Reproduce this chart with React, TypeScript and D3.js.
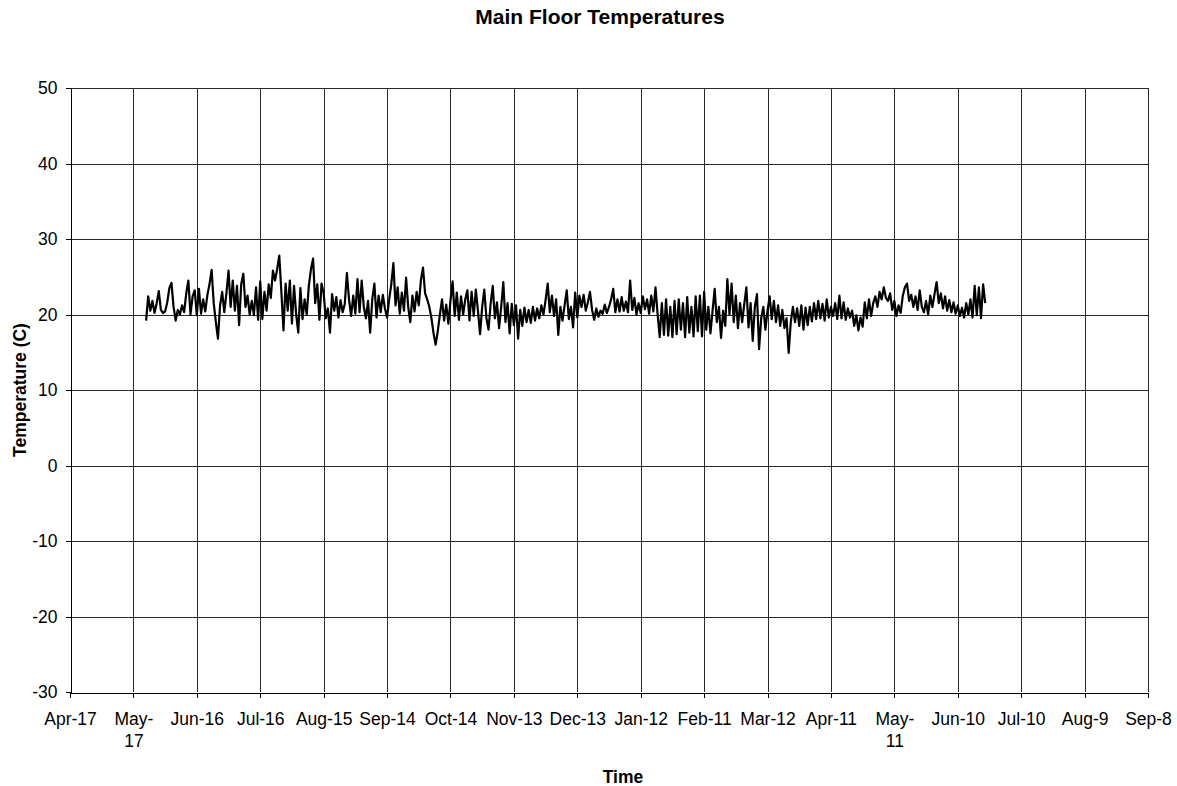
import { useEffect, useRef } from "react";
import * as d3 from "d3";

// daily readings, May 23 2007 .. Jun 23 2008
const may07 = [19.2, 22.4, 20.5, 21.8, 20.2, 21.5, 23.1, 20.6, 20.2];
const jun07 = [
  20.4, 21.6, 23.5, 24.2, 21.0, 19.2, 20.6, 20.0, 21.2, 20.3,
  22.8, 24.5, 20.0, 22.4, 23.2, 19.9, 23.4, 20.1, 22.0, 20.4,
  22.6, 24.0, 25.9, 21.5, 19.0, 16.8, 21.2, 23.0, 20.3, 22.8,
];
const jul07 = [
  25.8, 21.0, 24.5, 20.5, 23.8, 18.6, 24.0, 25.4, 21.0, 22.5,
  20.0, 21.8, 19.9, 23.6, 19.3, 24.4, 19.4, 23.0, 20.5, 24.0,
  22.2, 25.8, 24.5, 26.0, 27.8, 23.0, 17.9, 24.1, 20.5, 24.5, 18.8,
];
const aug07 = [
  23.8, 20.0, 17.6, 23.5, 19.4, 22.0, 20.0, 23.8, 26.0, 27.4,
  21.5, 24.0, 19.3, 24.1, 22.8, 19.5, 20.8, 17.6, 22.7, 20.5,
  22.3, 19.6, 21.9, 20.3, 21.4, 25.5, 22.0, 19.8, 22.5, 20.1, 24.7,
];
const sep07 = [
  20.3, 24.5, 21.0, 19.5, 21.8, 17.6, 22.0, 24.1, 19.6, 22.5,
  20.3, 22.6, 20.8, 19.6, 22.0, 24.0, 26.8, 21.2, 23.6, 20.1,
  22.9, 20.5, 24.9, 21.0, 19.0, 22.5, 20.4, 23.0, 21.2, 24.5,
];
const oct07 = [
  26.2, 22.8, 22.0, 21.0, 19.5, 17.5, 16.0, 17.8, 20.0, 22.0,
  19.2, 21.3, 18.8, 21.8, 24.4, 19.8, 22.9, 19.3, 22.4, 20.0,
  22.0, 23.2, 19.2, 23.0, 19.8, 23.3, 20.5, 17.4, 21.0, 23.3, 19.5,
];
const nov07 = [
  18.0, 21.4, 23.8, 19.5, 21.6, 18.2, 21.0, 24.3, 19.0, 21.5,
  17.5, 21.4, 18.6, 21.2, 16.8, 20.6, 18.5, 20.9, 19.0, 20.6,
  18.9, 21.0, 19.2, 20.8, 19.5, 21.2, 20.0, 21.9, 24.1, 20.3,
];
const dec07 = [
  22.5, 19.8, 22.0, 17.3, 21.0, 19.2, 21.2, 23.2, 19.4, 21.0,
  18.3, 22.9, 19.6, 22.5, 21.0, 22.6, 20.5, 21.6, 23.0, 20.6,
  19.3, 20.8, 19.7, 20.5, 20.1, 21.3, 20.2, 21.0, 22.0, 23.4, 20.3,
];
const jan08 = [
  22.0, 20.4, 22.3, 20.5, 21.7, 20.3, 24.5, 20.6, 22.2, 20.0,
  21.5, 20.2, 22.4, 20.7, 22.0, 20.1, 22.5, 20.4, 23.6, 20.0,
  17.0, 21.5, 17.3, 22.0, 17.2, 21.0, 17.0, 21.8, 17.4, 22.0, 18.0,
];
const feb08 = [
  21.5, 17.0, 22.3, 17.6, 21.0, 17.1, 22.4, 17.8, 22.5, 17.1,
  23.0, 18.0, 21.0, 17.5, 20.5, 23.4, 19.0, 21.0, 16.9, 20.5,
  18.5, 24.7, 20.0, 24.1, 19.0, 22.5, 18.2, 21.5, 19.0,
];
const mar08 = [
  21.4, 23.6, 18.3, 21.5, 16.5, 21.0, 22.7, 15.4, 19.5, 21.0,
  18.0, 20.5, 22.4, 19.4, 21.8, 19.0, 21.2, 18.5, 20.6, 18.2,
  19.5, 14.9, 19.0, 21.0, 19.0, 20.8, 18.5, 21.2, 18.0, 20.9, 18.6,
];
const apr08 = [
  21.0, 19.1, 21.5, 19.4, 21.8, 19.5, 21.4, 19.2, 22.0, 19.6,
  21.0, 19.8, 21.5, 19.4, 22.5, 19.5, 21.6, 19.3, 20.8, 19.6,
  20.5, 18.5, 19.9, 17.9, 19.6, 18.4, 21.6, 19.5, 22.0, 19.8,
];
const may08 = [
  21.5, 22.4, 21.0, 23.0, 22.0, 23.6, 22.2, 21.8, 22.8, 20.6,
  21.8, 19.8, 21.2, 20.2, 22.5, 23.6, 24.1, 21.8, 22.6, 21.0,
  22.4, 20.6, 23.2, 21.0, 20.3, 21.8, 20.0, 22.5, 21.0, 22.7, 24.3,
];
const jun08 = [
  21.5, 22.8, 20.8, 22.4, 20.5, 21.9, 20.3, 21.6, 20.1, 21.2,
  19.8, 20.9, 19.6, 21.5, 20.0, 22.0, 19.6, 23.8, 19.9, 23.6,
  19.5, 24.0, 21.5,
];

const xTickLabels = [
  ["Apr-17"], ["May-", "17"], ["Jun-16"], ["Jul-16"], ["Aug-15"], ["Sep-14"],
  ["Oct-14"], ["Nov-13"], ["Dec-13"], ["Jan-12"], ["Feb-11"], ["Mar-12"],
  ["Apr-11"], ["May-", "11"], ["Jun-10"], ["Jul-10"], ["Aug-9"], ["Sep-8"],
];
const yTicks = [-30, -20, -10, 0, 10, 20, 30, 40, 50];

const FONT = "'Liberation Sans', Arial, sans-serif";

function renderChart(el: SVGSVGElement) {
  const svg = d3.select(el);
  svg.selectAll("*").remove();

  const left = 70, right = 1148, top = 88, bottom = 692;

  const axisStart = new Date(2007, 3, 17);
  const tickDates = xTickLabels.map((_, i) => d3.timeDay.offset(axisStart, i * 30));

  const x = d3
    .scaleTime()
    .domain([tickDates[0], tickDates[tickDates.length - 1]])
    .range([left, right]);
  const y = d3.scaleLinear().domain([-30, 50]).range([bottom, top]);

  const values = [
    ...may07, ...jun07, ...jul07, ...aug07, ...sep07, ...oct07, ...nov07,
    ...dec07, ...jan08, ...feb08, ...mar08, ...apr08, ...may08, ...jun08,
  ];
  const first = new Date(2007, 4, 23);
  const data = values.map((v, i) => ({ date: d3.timeDay.offset(first, i), v }));

  const px = (n: number) => Math.round(n) + 0.5;

  // gridlines
  const grid = svg.append("g").attr("shape-rendering", "crispEdges");
  grid
    .selectAll("line.h")
    .data(yTicks.slice(1))
    .join("line")
    .attr("x1", left)
    .attr("x2", right)
    .attr("y1", (d) => px(y(d)))
    .attr("y2", (d) => px(y(d)))
    .attr("stroke", "#2a2a2a");
  grid
    .selectAll("line.v")
    .data(tickDates.slice(1))
    .join("line")
    .attr("x1", (d) => px(x(d)))
    .attr("x2", (d) => px(x(d)))
    .attr("y1", top)
    .attr("y2", bottom)
    .attr("stroke", "#2a2a2a");

  // y axis
  const yAxis = svg
    .append("g")
    .attr("transform", `translate(${px(left)},0)`)
    .attr("shape-rendering", "crispEdges")
    .call(
      d3
        .axisLeft(y)
        .tickValues(yTicks)
        .tickSize(5)
        .tickSizeOuter(0)
        .tickPadding(8)
        .tickFormat((d) => String(d))
    );
  yAxis.select(".domain").attr("stroke", "#000");
  yAxis
    .selectAll("text")
    .attr("font-family", FONT)
    .attr("font-size", 17.5)
    .attr("fill", "#000");

  // x axis
  const xAxis = svg
    .append("g")
    .attr("transform", `translate(0,${px(bottom)})`)
    .attr("shape-rendering", "crispEdges")
    .call(d3.axisBottom(x).tickValues(tickDates).tickSize(5).tickSizeOuter(0).tickFormat(() => ""));
  xAxis.select(".domain").attr("stroke", "#000");
  xAxis
    .selectAll<SVGTextElement, Date>("text")
    .each(function (_, i) {
      const t = d3.select(this).attr("dy", null).attr("y", 32);
      xTickLabels[i].forEach((line, j) => {
        t.append("tspan").attr("x", 0).attr("y", 32 + j * 22).text(line);
      });
    })
    .attr("font-family", FONT)
    .attr("font-size", 17.5)
    .attr("fill", "#000");

  // series
  const line = d3
    .line<{ date: Date; v: number }>()
    .x((d) => x(d.date))
    .y((d) => y(d.v));
  svg
    .append("path")
    .datum(data)
    .attr("d", line)
    .attr("fill", "none")
    .attr("stroke", "#000")
    .attr("stroke-width", 2.2)
    .attr("stroke-linejoin", "round");

  // titles
  svg
    .append("text")
    .attr("x", 600)
    .attr("y", 24)
    .attr("text-anchor", "middle")
    .attr("font-family", FONT)
    .attr("font-weight", "bold")
    .attr("font-size", 21)
    .text("Main Floor Temperatures");
  svg
    .append("text")
    .attr("x", 623)
    .attr("y", 783)
    .attr("text-anchor", "middle")
    .attr("font-family", FONT)
    .attr("font-weight", "bold")
    .attr("font-size", 17.5)
    .text("Time");
  svg
    .append("text")
    .attr("transform", `translate(26,${(top + bottom) / 2}) rotate(-90)`)
    .attr("text-anchor", "middle")
    .attr("font-family", FONT)
    .attr("font-weight", "bold")
    .attr("font-size", 17.5)
    .text("Temperature (C)");
}

export default function App() {
  const ref = useRef<SVGSVGElement>(null);
  useEffect(() => {
    if (ref.current) renderChart(ref.current);
  }, []);
  return (
    <svg
      ref={ref}
      width={1177}
      height={786}
      style={{ position: "absolute", left: 0, top: 0, background: "#fff" }}
    />
  );
}
